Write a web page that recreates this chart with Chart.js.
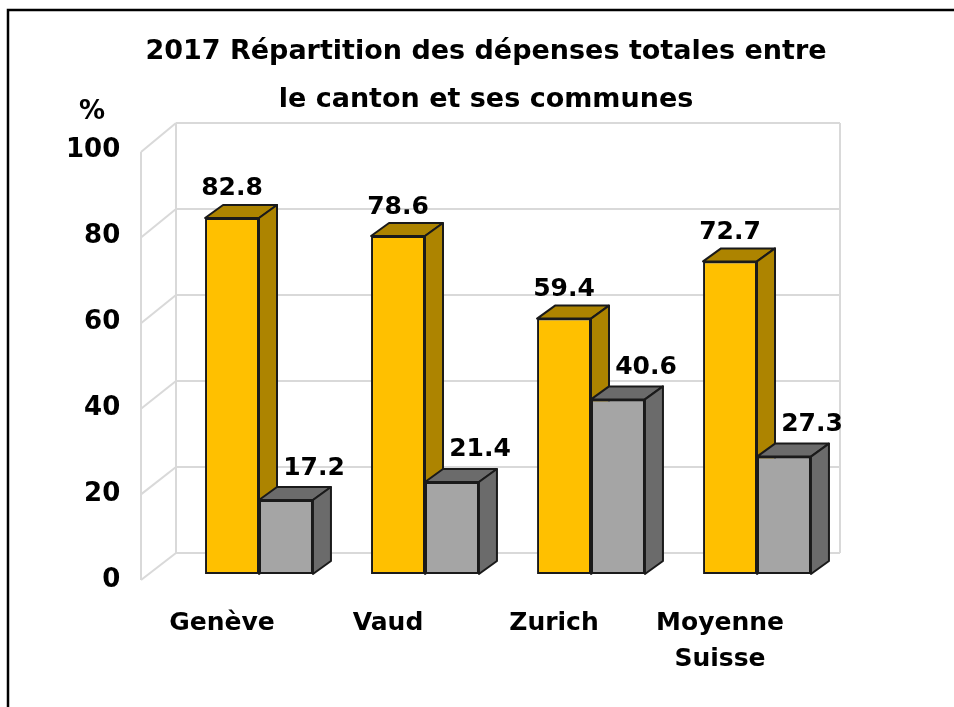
<!DOCTYPE html>
<html lang="fr">
<head>
<meta charset="UTF-8">
<title>2017 Répartition des dépenses totales</title>
<script src="https://cdn.jsdelivr.net/npm/chart.js"></script>
<style>
  html, body { margin: 0; padding: 0; background: #fff; }
</style>
</head>
<body>
<canvas id="chart" width="954" height="707"></canvas>
<script>
// valeurs (en %)
const categories = ['Genève', 'Vaud', 'Zurich', ['Moyenne', 'Suisse']];
const cantonShare = [82.8, 78.6, 59.4, 72.7];
const communesShare = [17.2, 21.4, 40.6, 27.3];
const yTickStep = 20;
const yMax = 100;

const FONT = "'DejaVu Sans', sans-serif";
const DEPTH_X = 18, DEPTH_Y = -13;   // profondeur des barres 3D
const OUTLINE = '#1a1a1a';

// dessine le cadre, les murs du fond et le "%"
const walls = {
    id: 'walls',
    beforeDraw(chart) {
        const ctx = chart.ctx;
        const area = chart.chartArea;
        const ys = chart.scales.y;
        ctx.save();
        ctx.fillStyle = '#fff';
        ctx.fillRect(0, 0, chart.width, chart.height);

        // cadre
        ctx.strokeStyle = '#000';
        ctx.lineWidth = 2.5;
        ctx.beginPath();
        ctx.moveTo(8, chart.height + 2);
        ctx.lineTo(8, 10);
        ctx.lineTo(chart.width + 2, 10);
        ctx.stroke();

        const back = v => ys.getPixelForValue(v) - 21;
        const front = v => ys.getPixelForValue(v) + 6 + v * 0.02;
        const frontX = area.left - 35;
        ctx.strokeStyle = '#d9d9d9';
        ctx.lineWidth = 2;
        ctx.beginPath();
        for (let v = 0; v <= yMax; v += yTickStep) {
            ctx.moveTo(area.left, back(v));
            ctx.lineTo(area.right, back(v));
            ctx.moveTo(frontX, front(v));
            ctx.lineTo(area.left, back(v));
        }
        ctx.moveTo(area.left, back(0));
        ctx.lineTo(area.left, back(yMax));
        ctx.moveTo(area.right, back(0));
        ctx.lineTo(area.right, back(yMax));
        ctx.moveTo(frontX, front(0));
        ctx.lineTo(frontX, front(yMax));
        ctx.stroke();

        ctx.fillStyle = '#000';
        ctx.font = 'bold 26px ' + FONT;
        ctx.textAlign = 'center';
        ctx.textBaseline = 'middle';
        ctx.fillText('%', 92, 112);
        ctx.restore();
    }
};

function drawFaces(ctx, bar, dark) {
    const p = bar.getProps(['x', 'y', 'base', 'width'], true);
    const l = p.x - p.width / 2, r = p.x + p.width / 2;
    ctx.fillStyle = dark;
    ctx.strokeStyle = OUTLINE;
    ctx.lineWidth = 2;
    ctx.lineJoin = 'round';
    // dessus
    ctx.beginPath();
    ctx.moveTo(l, p.y);
    ctx.lineTo(r, p.y);
    ctx.lineTo(r + DEPTH_X, p.y + DEPTH_Y);
    ctx.lineTo(l + DEPTH_X, p.y + DEPTH_Y);
    ctx.closePath();
    ctx.fill();
    ctx.stroke();
    // côté
    ctx.beginPath();
    ctx.moveTo(r, p.y);
    ctx.lineTo(r + DEPTH_X, p.y + DEPTH_Y);
    ctx.lineTo(r + DEPTH_X, p.base + DEPTH_Y);
    ctx.lineTo(r, p.base);
    ctx.closePath();
    ctx.fill();
    ctx.stroke();
}

const bars3d = {
    id: 'bars3d',
    afterDatasetsDraw(chart) {
        const ctx = chart.ctx;
        const m0 = chart.getDatasetMeta(0), m1 = chart.getDatasetMeta(1);
        ctx.save();
        for (let i = 0; i < categories.length; i++) {
            drawFaces(ctx, m0.data[i], '#ad8400');
            m1.data[i].draw(ctx);
            drawFaces(ctx, m1.data[i], '#6b6b6b');
        }
        // étiquettes de valeurs
        ctx.fillStyle = '#000';
        ctx.font = 'bold 25px ' + FONT;
        ctx.textAlign = 'center';
        ctx.textBaseline = 'middle';
        for (let i = 0; i < categories.length; i++) {
            const a = m0.data[i], b = m1.data[i];
            ctx.fillText(cantonShare[i].toFixed(1), a.x, a.y - 29);
            ctx.fillText(communesShare[i].toFixed(1), b.x + 28, b.y - 32);
        }
        ctx.restore();
    }
};

new Chart(document.getElementById('chart'), {
    type: 'bar',
    data: {
        labels: categories,
        datasets: [{
            label: 'Canton',
            data: cantonShare,
            backgroundColor: '#ffc000',
            borderColor: OUTLINE,
            borderWidth: 2,
            borderSkipped: false
        }, {
            label: 'Communes',
            data: communesShare,
            backgroundColor: '#a5a5a5',
            borderColor: OUTLINE,
            borderWidth: 2,
            borderSkipped: false
        }]
    },
    options: {
        responsive: false,
        animation: false,
        layout: { padding: { left: 132, right: 114, top: 0, bottom: 0 } },
        datasets: { bar: { barPercentage: 1, categoryPercentage: 0.65 } },
        plugins: {
            legend: { display: false },
            tooltip: { enabled: false },
            title: {
                display: true,
                text: ['2017 Répartition des dépenses totales entre', 'le canton et ses communes'],
                color: '#000',
                font: { family: FONT, size: 27, weight: 'bold', lineHeight: 48 / 27 },
                padding: { top: 28, bottom: 20 }
            }
        },
        scales: {
            x: {
                grid: { display: false, drawTicks: false },
                border: { display: false },
                ticks: {
                    color: '#000',
                    font: { family: FONT, size: 25, weight: 'bold', lineHeight: 1.45 },
                    padding: 31,
                    labelOffset: -37,
                    maxRotation: 0
                },
                afterFit: s => { s.height = 133; }
            },
            y: {
                min: 0,
                max: yMax,
                grid: { display: false, drawTicks: false },
                border: { display: false },
                ticks: {
                    stepSize: yTickStep,
                    color: '#000',
                    font: { family: FONT, size: 26, weight: 'bold' },
                    // libellés placés à gauche de l'axe, hors de sa largeur
                    mirror: true,
                    crossAlign: 'far',
                    padding: -110,
                    labelOffset: 6
                },
                afterFit: s => { s.width = 44; }
            }
        }
    },
    plugins: [walls, bars3d]
});
</script>
</body>
</html>
